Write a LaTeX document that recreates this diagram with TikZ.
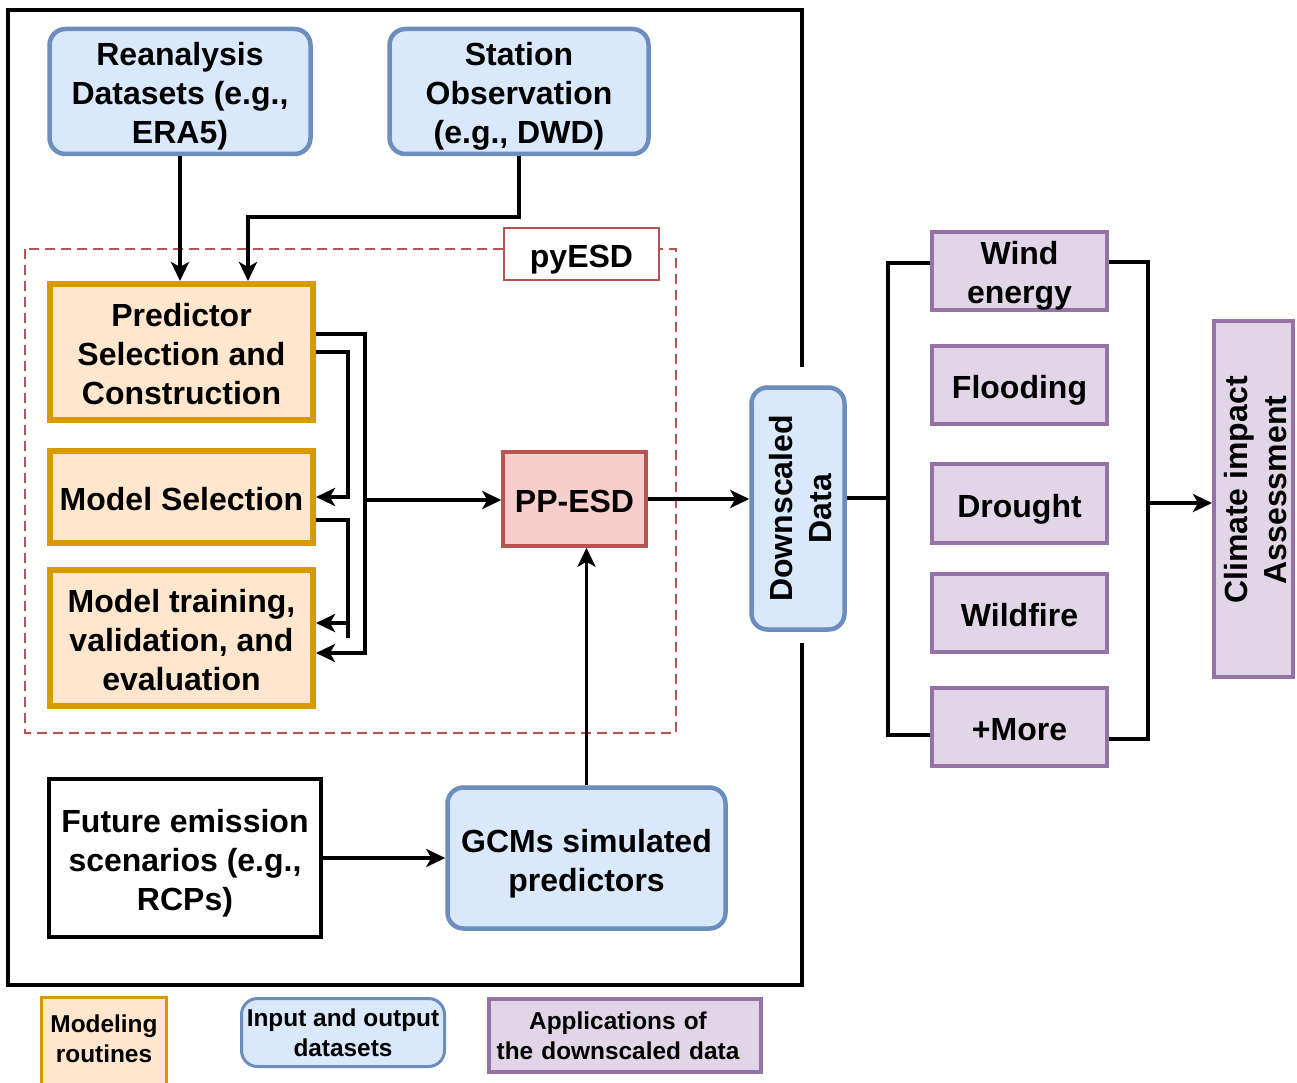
\documentclass[tikz,border=0pt]{standalone}
\usepackage{fontspec}
\setmainfont{Liberation Sans}
\usetikzlibrary{arrows.meta}
\definecolor{bfill}{HTML}{DAE8FC}\definecolor{bdraw}{HTML}{6C8EBF}
\definecolor{ofill}{HTML}{FFE6CC}\definecolor{odraw}{HTML}{D79B00}
\definecolor{rfill}{HTML}{F8CECC}\definecolor{rdraw}{HTML}{B85450}
\definecolor{pfill}{HTML}{E1D5E7}\definecolor{pdraw}{HTML}{9673A6}
% n lines of text with uniform metrics (first line height 30pt, last line depth 3pt)
\newcommand\mlt[2]{\raisebox{0pt}[30pt][\dimexpr\numexpr(#1-1)*39+3\relax pt\relax]{\begin{tabular}[t]{@{}c@{}}#2\end{tabular}}}
\newcommand\mltpad[3]{\raisebox{0pt}[30pt][\dimexpr\numexpr(#1-1)*39+3\relax pt\relax]{\begin{tabular}[t]{@{\hspace{#3}}c@{}}#2\end{tabular}}}
\begin{document}
\begin{tikzpicture}[x=1pt,y=-1pt,
 base/.style={align=center, inner sep=0pt, font=\fontsize{32}{39}\selectfont\bfseries},
 bluebox/.style={base, draw=bdraw, fill=bfill, line width=4.5pt, rounded corners=16pt},
 orbox/.style={base, draw=odraw, fill=ofill, line width=6pt},
 redbox/.style={base, draw=rdraw, fill=rfill, line width=3.5pt},
 purbox/.style={base, draw=pdraw, fill=pfill, line width=4pt},
 plainbox/.style={base, draw=black, fill=white, line width=4pt},
 ln/.style={draw=black, line width=3.5pt},
 arr/.style={ln, -{Stealth[length=19pt,width=18pt,inset=5pt]}},
 legtext/.style={align=center, inner sep=0pt, font=\fontsize{24.4}{30}\selectfont\bfseries},
 sz/.style 2 args={minimum width=#1pt, minimum height=#2pt}
]
\useasboundingbox (0,0) rectangle (1297,1083);
\clip (0,0) rectangle (1297,1083);
\fill[white] (0,0) rectangle (1297,1083);

% outer frame
\draw[line width=4pt] (802,367) -- (802,10) -- (8,10) -- (8,985) -- (802,985) -- (802,643);

% pyESD region
\draw[rdraw, line width=2.5pt, dash pattern=on 10pt off 6pt] (25,249) rectangle (676,733);
\node[base, draw=rdraw, fill=white, line width=2pt, sz={155}{52}] (pyesd) at (581.5,254) {\mlt{1}{pyESD}};

% top inputs
\node[bluebox, sz={261}{125}] (rean) at (180,91.5) {\mlt{3}{Reanalysis\\Datasets (e.g.,\\ERA5)}};
\node[bluebox, sz={259}{125}] (stat) at (519,91.5) {\mlt{3}{Station\\Observation\\(e.g., DWD)}};

% modeling routines
\node[orbox, sz={263}{136}] (pred) at (181.5,352) {\mlt{3}{Predictor\\Selection and\\Construction}};
\node[orbox, sz={263}{92}] (msel) at (181.5,497) {\mlt{1}{Model Selection}};
\node[orbox, sz={263}{136}] (train) at (181.5,638) {\mlt{3}{Model training,\\validation, and\\evaluation}};

\node[redbox, sz={143}{94}] (pp) at (574.5,499) {\mlt{1}{PP-ESD}};

\node[bluebox, sz={278}{141}] (gcm) at (586.5,858) {\mlt{2}{GCMs simulated\\predictors}};
\node[plainbox, sz={272}{158}] (fut) at (185,858) {\mlt{3}{Future emission\\scenarios (e.g.,\\RCPs)}};

\node[bluebox, sz={93}{242}] (ds) at (798,508.5) {\rotatebox{90}{\mlt{2}{Downscaled\\Data}}};

% applications
\node[purbox, sz={175}{78}] (wind) at (1019.5,271) {\mlt{2}{Wind\\energy}};
\node[purbox, sz={175}{78}] (flood) at (1019.5,385) {\mlt{1}{Flooding}};
\node[purbox, sz={175}{79}] (drought) at (1019.5,503.5) {\mlt{1}{Drought}};
\node[purbox, sz={175}{78}] (fire) at (1019.5,613) {\mlt{1}{Wildfire}};
\node[purbox, sz={175}{78}] (more) at (1019.5,727) {\mlt{1}{+More}};
\node[purbox, sz={79}{356}] (cia) at (1253.5,499) {\rotatebox{90}{\mltpad{2}{Climate impact\\Assessment}{18pt}}};

% connectors top
\draw[arr] (rean.south) -- (rean.south |- pred.north);
\coordinate (sj) at (248,217);
\draw[arr] (stat.south) |- (sj) -- (sj |- pred.north);

% internal loops
\coordinate (xo) at (365,500);
\coordinate (xi) at (348,0);
\draw[arr] ([yshift=18pt]pred.east) -| (xo) |- ([yshift=-15pt]train.east);
\draw[arr] (pred.east) -| (xi |- msel.east) -- (msel.east);
\draw[arr] ([yshift=-23pt]msel.east) -| (xi |- train.east) |- ([yshift=15pt]train.east);
\draw[arr] (xo) -- (xo -| pp.west);

% to downscaled
\draw[arr] (pp.east) -- (pp.east -| ds.west);
\draw[arr] (gcm.north) -- (gcm.north |- pp.south);
\draw[arr] (fut.east) -- (gcm.west);

% application bus
\coordinate (jl) at (888,498);
\draw[ln] (ds.east |- jl) -- (jl);
\draw[ln] ([yshift=8pt]wind.west) -| (jl) |- ([yshift=-8pt]more.west);
\coordinate (jr) at (1148,503);
\draw[ln] ([yshift=9pt]wind.east) -| (jr) |- ([yshift=-12pt]more.east);
\draw[arr] (jr) -- (jr -| cia.west);

% legend
\draw[draw=odraw, fill=ofill, line width=3pt] (41.5,1100) -- (41.5,997.5) -- (166.5,997.5) -- (166.5,1100);
\node[legtext] (legmod) at (104,1039) {Modeling\\routines};
\node[legtext, draw=bdraw, fill=bfill, line width=3pt, rounded corners=16pt, sz={203}{68}] (legio) at (343,1032.5) {Input and output\\datasets};
\node[legtext, draw=pdraw, fill=pfill, line width=4pt, sz={272}{73}, text width=272pt] (legapp) at (625,1035.5) {\hspace*{-14pt}Applications of\\\hspace*{-14pt}the downscaled data};
\end{tikzpicture}
\end{document}
